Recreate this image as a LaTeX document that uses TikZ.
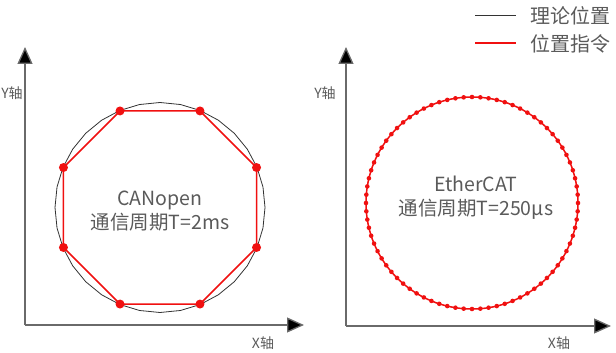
\documentclass[tikz,border=0pt]{standalone}
\usepackage{fontspec}
\newfontfamily\cjk{Noto Sans CJK SC}
\usetikzlibrary{arrows.meta}
\definecolor{txtgray}{HTML}{5A5A5A}
\definecolor{axgray}{HTML}{6A6A6A}
\definecolor{cred}{HTML}{F01010}
\tikzset{
  axis/.style={draw=axgray, line width=1.3pt, -{Triangle[width=15pt,length=17pt,fill=black]}},
  axlabel/.style={text=txtgray, font=\cjk\fontsize{14}{16}\selectfont, inner sep=0pt},
  centertext/.style={text=txtgray, font=\cjk\fontsize{19.5}{24}\selectfont, align=center, inner sep=0pt},
  legtext/.style={text=txtgray, font=\cjk\fontsize{20}{22}\selectfont, anchor=west, inner sep=0pt},
  theory/.style={draw=black!80, line width=0.8pt},
  cmd/.style={draw=cred, line width=1.5pt},
  dot/.style={fill=cred, draw=none}
}
\begin{document}
\begin{tikzpicture}[x=1pt,y=-1pt]
\useasboundingbox (0,0) rectangle (616,353);
% legend
\coordinate (l1a) at (475,15); \coordinate (l1b) at (516,15);
\coordinate (l2a) at (475,43); \coordinate (l2b) at (516,43);
\draw[theory] (l1a) -- (l1b);
\draw[cmd] (l2a) -- (l2b);
\node[legtext] (leg1) at (530,16) {理论位置};
\node[legtext] (leg2) at (530,44) {位置指令};
% left axes
\coordinate (o1) at (25,325);
\coordinate (y1) at (25,47);
\coordinate (x1) at (304,325);
\draw[axis] (o1) -- (y1);
\draw[axis] (o1) -- (x1);
\node[axlabel] (ylab1) at (12,93) {Y轴};
\node[axlabel] (xlab1) at (263,343) {X轴};
% right axes
\coordinate (o2) at (346,326);
\coordinate (y2) at (346,47);
\coordinate (x2) at (611,326);
\draw[axis] (o2) -- (y2);
\draw[axis] (o2) -- (x2);
\node[axlabel] (ylab2) at (325,93) {Y轴};
\node[axlabel] (xlab2) at (559,343) {X轴};
% left circle
\coordinate (c1) at (160,207.5);
\draw[theory] plot[samples=33, domain=0:360, variable=\t] ({160+105*cos(\t)},{207.5+105*sin(\t)});
\draw[cmd] plot[samples=9, domain=22.5:382.5, variable=\t] ({160+104.5*cos(\t)},{207.5+104.5*sin(\t)});
\foreach \k in {0,...,7} {
  \fill[dot] ({160+104.5*cos(22.5+45*\k)},{207.5+104.5*sin(22.5+45*\k)}) circle (4.5pt);
}
\node[centertext] (t1) at (160,211) {CANopen\\通信周期T=2ms};
% right circle
\draw[cmd] (472,203) circle (106pt);
\foreach \k in {0,...,79} {
  \fill[dot] ({472+106*cos(4.5*\k)},{203+106*sin(4.5*\k)}) circle (2.3pt);
}
\node[centertext] (t2) at (476,198) {EtherCAT\\通信周期T=250μs};
\end{tikzpicture}
\end{document}
